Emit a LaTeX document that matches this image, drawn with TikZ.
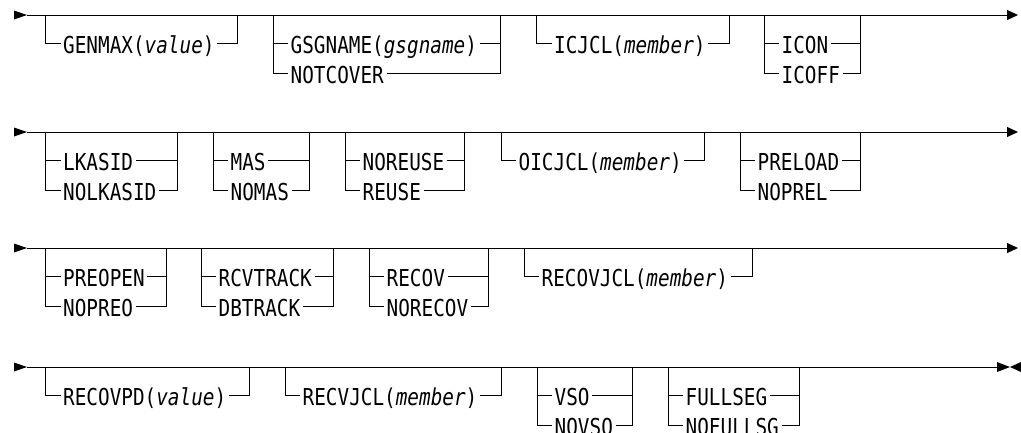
\documentclass[tikz,border=0pt]{standalone}
\usepackage{fontspec}
\usetikzlibrary{arrows.meta, calc}
\newfontfamily\railfont[FakeStretch=0.83]{DejaVu Sans Mono}

\begin{document}
\begin{tikzpicture}[
    x=1pt, y=-1pt,
    rail/.style={line width=1pt, black},
    kw/.style={font=\railfont\fontsize{23.3pt}{26pt}\selectfont, anchor=west,
               inner xsep=2.5pt, inner ysep=0pt, text height=20pt, text depth=0pt},
]

% ================================================================
% Railroad rows, all in pixel units of the page.
%   main lines  y = 15, 132, 248, 367
%   branches    28.5 below the main line, the second 30 below that
% ================================================================

\def\da{28.5}
\def\db{30}

\useasboundingbox (0,0) rectangle (1021,432);

% ---------------------------------------------------------------- main lines
\foreach \i/\y in {1/15, 2/132, 3/248} {
    \coordinate (s\i) at (27,\y);
    \coordinate (e\i) at (1018,\y);
    \fill (14,\y-4.5) -- (s\i) -- (14,\y+4.5) -- cycle;
    \draw[rail, -{Triangle[length=11pt, width=10pt]}] (s\i) -- (e\i);
}

% last row ends in the double head
\coordinate (s4) at (27,367);
\coordinate (e4) at (997,367);
\fill (14,362.5) -- (s4) -- (14,371.5) -- cycle;
\draw[rail] (s4) -- (e4);
\fill (e4) ++(0,-5) -- (1010,367) -- (997,372) -- cycle;
\fill (1021,362) -- (1010,367) -- (1021,372) -- cycle;

% ---------------------------------------------------------------- one choice
% name / left bar / right bar / row / keyword
\foreach \n/\l/\r/\y/\ta in {%
    genmax/45.5/237/15/{GENMAX(\textit{value})},
    icjcl/536.5/729/15/{ICJCL(\textit{member})},
    oicjcl/501/704/132/{OICJCL(\textit{member})},
    recovjcl/524/752/248/{RECOVJCL(\textit{member})},
    recovpd/45.5/249/367/{RECOVPD(\textit{value})},
    recvjcl/285/501/367/{RECVJCL(\textit{member})}%
} {
    \coordinate (\n-l) at (\l,\y);
    \coordinate (\n-r) at (\r,\y);
    \node[kw] (\n-a) at (\l+15,\y+\da) {\ta};
    \draw[rail] (\n-l) |- (\n-a.west);
    \draw[rail] (\n-a.east) -| (\n-r);
}

% ---------------------------------------------------------------- two choices
% name / left bar / right bar / row / first / second
\foreach \n/\l/\r/\y/\ta/\tb in {%
    gsgname/273/500.5/15/{GSGNAME(\textit{gsgname})}/NOTCOVER,
    icon/764/860/15/ICON/ICOFF,
    lkasid/45.5/177/132/LKASID/NOLKASID,
    mas/213/309/132/MAS/NOMAS,
    noreuse/345/464/132/NOREUSE/REUSE,
    preload/740/860/132/PRELOAD/NOPREL,
    preopen/45.5/166/248/PREOPEN/NOPREO,
    rcvtrack/201/333/248/RCVTRACK/DBTRACK,
    recov/369/488/248/RECOV/NORECOV,
    vso/537/632/367/VSO/NOVSO,
    fullseg/668/799/367/FULLSEG/NOFULLSG%
} {
    \coordinate (\n-l) at (\l,\y);
    \coordinate (\n-r) at (\r,\y);
    \node[kw] (\n-a) at (\l+15,\y+\da) {\ta};
    \node[kw] (\n-b) at (\l+15,\y+\da+\db) {\tb};
    \draw[rail] (\n-l) |- (\n-b.west);
    \draw[rail] (\n-a.west -| \n-l) -- (\n-a.west);
    \draw[rail] (\n-b.east) -| (\n-r);
    \draw[rail] (\n-a.east) -- (\n-a.east -| \n-r);
}

\end{tikzpicture}
\end{document}
